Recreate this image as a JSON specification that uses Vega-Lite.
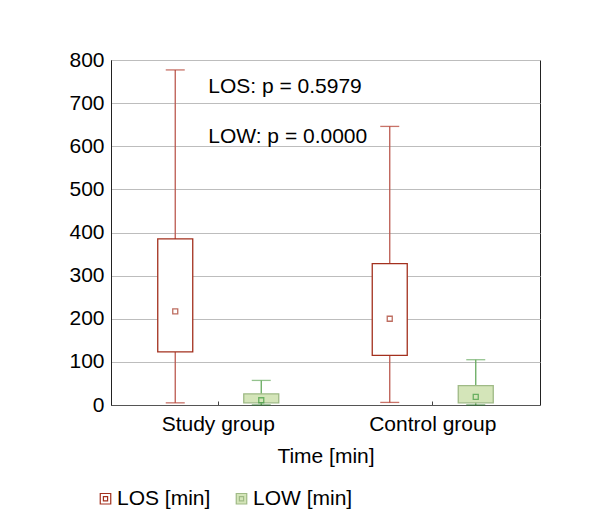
{
  "$schema": "https://vega.github.io/schema/vega-lite/v6.json",
  "autosize": "none",
  "width": 429,
  "height": 345,
  "padding": {"left": 111, "top": 60, "right": 54, "bottom": 124},
  "background": "white",
  "config": {
    "font": "Liberation Sans",
    "view": {"stroke": "#222", "strokeWidth": 1},
    "axis": {"labelFont": "Liberation Sans", "titleFont": "Liberation Sans", "labelColor": "#000", "titleColor": "#000", "titleFontWeight": "normal"}
  },
  "datasets": {
    "boxes": [
      {"group": "Study group", "series": "LOS [min]", "min": 5, "q1": 123, "median": 217, "q3": 385, "max": 777},
      {"group": "Study group", "series": "LOW [min]", "min": 0, "q1": 5, "median": 11, "q3": 26, "max": 57},
      {"group": "Control group", "series": "LOS [min]", "min": 6, "q1": 115, "median": 200, "q3": 328, "max": 646},
      {"group": "Control group", "series": "LOW [min]", "min": 0, "q1": 5, "median": 19, "q3": 45, "max": 105}
    ],
    "notes": [
      {"group": "Study group", "value": 724, "label": "LOS: p = 0.5979"},
      {"group": "Study group", "value": 608, "label": "LOW: p = 0.0000"}
    ]
  },
  "encoding": {
    "x": {
      "field": "group", "type": "nominal", "sort": ["Study group", "Control group"],
      "scale": {"paddingInner": 0, "paddingOuter": 0},
      "axis": {"title": "Time [min]", "labelAngle": 0, "labelFontSize": 21, "titleFontSize": 21, "tickSize": -4, "tickColor": "#444", "domainColor": "#555", "labelPadding": 12, "titlePadding": 11}
    }
  },
  "layer": [
    {
      "data": {"name": "boxes"},
      "mark": {"type": "rule", "strokeWidth": 1.3},
      "encoding": {
        "xOffset": {"field": "series", "type": "nominal", "scale": {"paddingInner": 0, "paddingOuter": 0.247}},
        "y": {"field": "min", "type": "quantitative", "scale": {"domain": [0, 800]},
          "axis": {"title": null, "values": [0,100,200,300,400,500,600,700,800], "labelFontSize": 21, "ticks": false, "labelPadding": 7, "grid": true, "gridColor": "#bdbdbd", "gridWidth": 1.2, "domainColor": "#222"}},
        "y2": {"field": "max"},
        "color": {"field": "series", "type": "nominal", "scale": {"domain": ["LOS [min]", "LOW [min]"], "range": ["#bb5a50", "#66aa5e"]}, "legend": null}
      }
    },
    {
      "data": {"name": "boxes"},
      "mark": {"type": "tick", "thickness": 1.3, "size": 19},
      "encoding": {
        "xOffset": {"field": "series", "type": "nominal", "scale": {"paddingInner": 0, "paddingOuter": 0.247}},
        "y": {"field": "max", "type": "quantitative"},
        "color": {"field": "series", "type": "nominal", "scale": {"domain": ["LOS [min]", "LOW [min]"], "range": ["#b0382a", "#66aa5e"]}, "legend": null}
      }
    },
    {
      "data": {"name": "boxes"},
      "mark": {"type": "tick", "thickness": 1.3, "size": 19},
      "encoding": {
        "xOffset": {"field": "series", "type": "nominal", "scale": {"paddingInner": 0, "paddingOuter": 0.247}},
        "y": {"field": "min", "type": "quantitative"},
        "color": {"field": "series", "type": "nominal", "scale": {"domain": ["LOS [min]", "LOW [min]"], "range": ["#b0382a", "#2f7a2f"]}, "legend": null}
      }
    },
    {
      "data": {"name": "boxes"},
      "mark": {"type": "bar", "size": 35, "strokeWidth": 1.3},
      "encoding": {
        "xOffset": {"field": "series", "type": "nominal", "scale": {"paddingInner": 0, "paddingOuter": 0.247}},
        "y": {"field": "q1", "type": "quantitative"},
        "y2": {"field": "q3"},
        "fill": {"field": "series", "type": "nominal", "scale": {"domain": ["LOS [min]", "LOW [min]"], "range": ["#ffffff", "#d4e5b9"]},
          "legend": {"title": null, "orient": "none", "legendX": -16, "legendY": 428, "direction": "horizontal", "labelFontSize": 21, "labelFont": "Liberation Sans", "labelColor": "#000", "symbolType": "M-1,-1H1V1H-1Z M-0.4,-0.4H0.4V0.4H-0.4Z", "symbolSize": 110, "symbolStrokeWidth": 1.2, "labelOffset": 1, "columnPadding": 20}},
        "stroke": {"field": "series", "type": "nominal", "scale": {"domain": ["LOS [min]", "LOW [min]"], "range": ["#a3301e", "#9fba86"]}}
      }
    },
    {
      "data": {"name": "boxes"},
      "mark": {"type": "point", "shape": "square", "size": 25, "filled": false, "strokeWidth": 1.3},
      "encoding": {
        "xOffset": {"field": "series", "type": "nominal", "scale": {"paddingInner": 0, "paddingOuter": 0.247}},
        "y": {"field": "median", "type": "quantitative"},
        "color": {"field": "series", "type": "nominal", "scale": {"domain": ["LOS [min]", "LOW [min]"], "range": ["#a3301e", "#3c9a3c"]}, "legend": null}
      }
    },
    {
      "data": {"name": "notes"},
      "mark": {"type": "text", "align": "left", "baseline": "alphabetic", "dx": -10, "fontSize": 21, "font": "Liberation Sans", "color": "#000"},
      "encoding": {
        "y": {"field": "value", "type": "quantitative"},
        "text": {"field": "label"}
      }
    }
  ],
  "resolve": {"scale": {"color": "independent"}}
}
